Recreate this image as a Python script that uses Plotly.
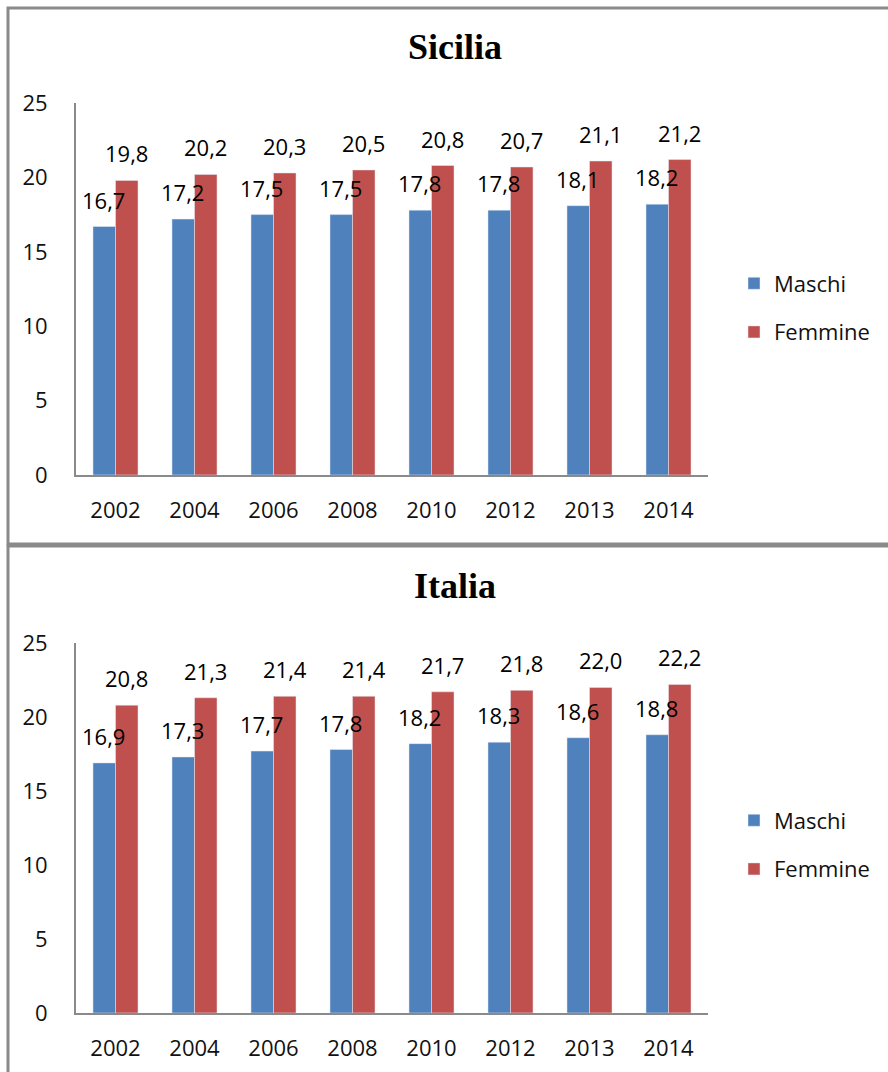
import plotly.graph_objects as go

# Anni di riferimento
anni = ["2002", "2004", "2006", "2008", "2010", "2012", "2013", "2014"]

# Sicilia
sicilia_maschi = [16.7, 17.2, 17.5, 17.5, 17.8, 17.8, 18.1, 18.2]
sicilia_femmine = [19.8, 20.2, 20.3, 20.5, 20.8, 20.7, 21.1, 21.2]

# Italia
italia_maschi = [16.9, 17.3, 17.7, 17.8, 18.2, 18.3, 18.6, 18.8]
italia_femmine = [20.8, 21.3, 21.4, 21.4, 21.7, 21.8, 22.0, 22.2]

y_ticks = [0, 5, 10, 15, 20, 25]

W, H = 888, 1072
BLUE = "#4F81BD"
RED = "#C0504D"
GRAY = "#8a8a8a"
FONT = "Open Sans"


def px_x(v):
    return v / W


def px_y(v):
    return 1 - v / H


def fmt(v):
    return f"{v:.1f}".replace(".", ",")


fig = go.Figure()

panels = [
    ("Sicilia", sicilia_maschi, sicilia_femmine, "x", "y", "legend", 103, 475, 47, 308),
    ("Italia", italia_maschi, italia_femmine, "x2", "y2", "legend2", 643, 1013, 586, 845),
]

annotations = []
for i, (nome, maschi, femmine, xa, ya, leg, top, bottom, title_y, leg_y) in enumerate(panels):
    fig.add_trace(go.Bar(x=anni, y=maschi, name="Maschi", marker_color=BLUE,
                         xaxis=xa, yaxis=ya, legend=leg, legendgroup=f"m{i}",
                         offsetgroup="m"))
    fig.add_trace(go.Bar(x=anni, y=femmine, name="Femmine", marker_color=RED,
                         xaxis=xa, yaxis=ya, legend=leg, legendgroup=f"f{i}",
                         offsetgroup="f"))

    # etichette dei valori sopra ciascuna barra
    for serie, shift in ((maschi, -12), (femmine, 11)):
        for anno, v in zip(anni, serie):
            annotations.append(dict(
                x=anni.index(anno), y=v, xref=xa, yref=ya, text=fmt(v), showarrow=False,
                xanchor="center", yanchor="bottom", xshift=shift, yshift=10,
                font=dict(family=FONT, size=22, color="#000000"),
            ))

    annotations.append(dict(
        x=px_x(455), y=px_y(title_y), xref="paper", yref="paper",
        text=f"<b>{nome}</b>", showarrow=False, xanchor="center", yanchor="middle",
        font=dict(family="Liberation Serif", size=36, color="#000000"),
    ))

    axis_common = dict(showline=True, linecolor=GRAY, linewidth=2, showgrid=False,
                       zeroline=False, ticks="", automargin=False)
    suffix = "" if i == 0 else "2"
    fig.update_layout({
        f"xaxis{suffix}": dict(
            domain=[px_x(76), px_x(708)], anchor=ya, type="category",
            categoryorder="array", categoryarray=anni, range=[-0.5, len(anni) - 0.5],
            tickfont=dict(family=FONT, size=22, color="#111111"),
            ticklabelstandoff=15, **axis_common),
        f"yaxis{suffix}": dict(
            domain=[px_y(bottom), px_y(top)], anchor=xa, range=[0, 25],
            tickvals=y_ticks, tickfont=dict(family=FONT, size=22, color="#111111"),
            ticklabelstandoff=22, **axis_common),
        leg: dict(
            x=px_x(734), y=px_y(leg_y), xanchor="left", yanchor="middle",
            font=dict(family=FONT, size=22, color="#111111"),
            traceorder="grouped", tracegroupgap=17, bgcolor="rgba(0,0,0,0)",
        ),
    })

shapes = [
    dict(type="rect", xref="paper", yref="paper",
         x0=px_x(8), x1=px_x(905), y0=px_y(544), y1=px_y(8),
         line=dict(color=GRAY, width=3), fillcolor="rgba(0,0,0,0)"),
    dict(type="rect", xref="paper", yref="paper",
         x0=px_x(8), x1=px_x(905), y0=px_y(1090), y1=px_y(546),
         line=dict(color=GRAY, width=3), fillcolor="rgba(0,0,0,0)"),
]

fig.update_layout(
    width=W, height=H, margin=dict(l=0, r=0, t=0, b=0, autoexpand=False),
    paper_bgcolor="white", plot_bgcolor="white",
    barmode="group", bargap=0.43, bargroupgap=0,
    annotations=annotations, shapes=shapes, showlegend=True,
)

fig.write_html("out.html")
